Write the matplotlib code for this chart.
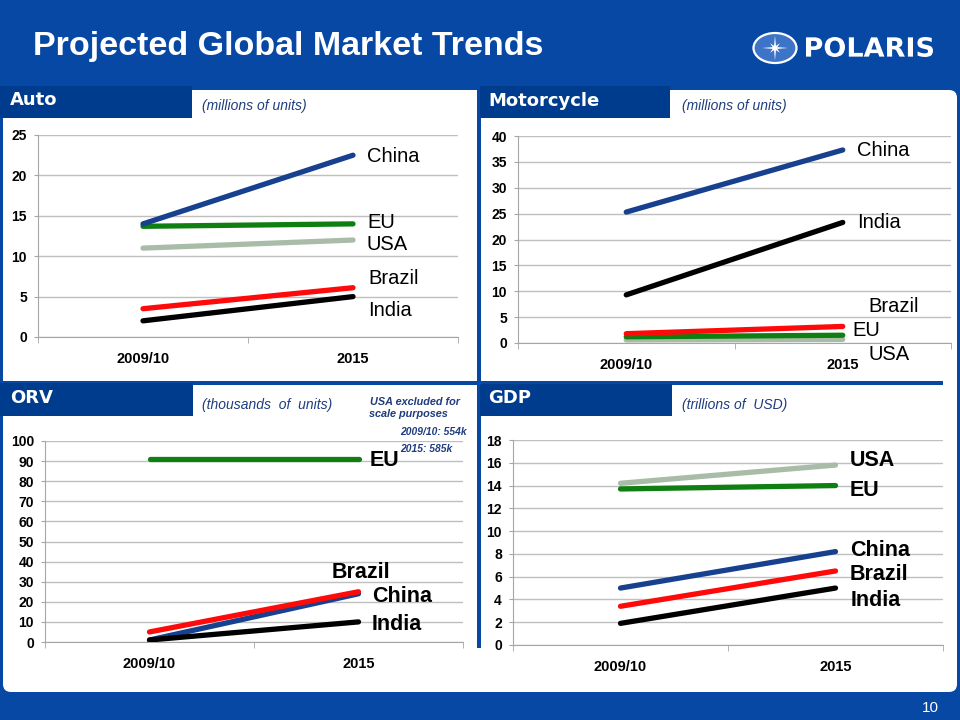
import matplotlib
matplotlib.use("Agg")
import matplotlib.pyplot as plt
from matplotlib.patches import Rectangle, FancyBboxPatch, Ellipse, Polygon, PathPatch
from matplotlib.textpath import TextPath
from matplotlib.font_manager import FontProperties
from matplotlib.transforms import Affine2D
import numpy as np

plt.rcParams['font.family'] = ['Liberation Sans', 'DejaVu Sans']

W, H = 960, 720

years = ["2009/10", "2015"]

# Auto (millions of units)
auto_china = [14.0, 22.5]
auto_eu = [13.7, 14.0]
auto_usa = [11.0, 12.0]
auto_brazil = [3.5, 6.1]
auto_india = [2.0, 5.0]

# Motorcycle (millions of units)
moto_china = [25.3, 37.3]
moto_india = [9.3, 23.3]
moto_brazil = [1.8, 3.2]
moto_eu = [1.2, 1.5]
moto_usa = [0.6, 0.7]

# ORV (thousands of units), USA left out
orv_eu = [91.0, 91.0]
orv_brazil = [5.0, 25.0]
orv_china = [1.0, 24.0]
orv_india = [1.0, 10.0]

# GDP (trillions of USD)
gdp_usa = [14.2, 15.8]
gdp_eu = [13.7, 14.0]
gdp_china = [5.0, 8.2]
gdp_brazil = [3.4, 6.5]
gdp_india = [1.9, 5.0]

BG = '#0748A5'
TAB = '#003C8D'
SUB = '#1F3C7E'
NAVY = '#17408F'
GREEN = '#0F7F12'
GRAY = '#A8BCA8'
RED = '#FF0A0A'
BLACK = '#000000'
SPINE = '#A6A6A6'


def rect(x0, y0, x1, y1):
    # pixel box (top-left origin) -> figure fraction
    return [x0 / W, 1 - y1 / H, (x1 - x0) / W, (y1 - y0) / H]


def ftext(x, y, s, **kw):
    kw.setdefault('va', 'center')
    fig.text(x / W, 1 - y / H, s, **kw)


fig = plt.figure(figsize=(9.6, 7.2), dpi=100)
fig.set_facecolor(BG)

bg = fig.add_axes([0, 0, 1, 1], zorder=-1)
bg.set_xlim(0, W)
bg.set_ylim(H, 0)
bg.set_axis_off()
bg.patch.set_alpha(0)

bg.add_patch(FancyBboxPatch((3, 90), 954, 602, boxstyle="round,pad=0,rounding_size=8",
                            fc='white', ec='none'))
# dividers between the four panels
bg.add_patch(Rectangle((477, 86), 4, 562, fc=BG, ec='none'))
bg.add_patch(Rectangle((0, 381), 943, 4, fc=BG, ec='none'))
# tabs
for tx, ty, tw, th in [(0, 86, 192, 32), (480, 86, 190, 32), (0, 383, 193, 33), (480, 384, 192, 32)]:
    bg.add_patch(Rectangle((tx, ty), tw, th, fc=TAB, ec='none'))

# logo
bg.add_patch(Ellipse((775, 48), 43, 30, fc='#3D74C8', ec='white', lw=1.6))
ang = np.deg2rad(np.arange(16) * 22.5)
rad = np.array([13, 2.5, 7, 2.5] * 4)
star = np.column_stack([775 + rad * np.sin(ang), 48 - rad * np.cos(ang) * 0.95])
bg.add_patch(Polygon(star, closed=True, fc='white', ec='none'))
fp = FontProperties(family='DejaVu Sans', weight='bold')
tp = TextPath((0, 0), "POLARIS", size=20, prop=fp)
bb = tp.get_extents()
tr = Affine2D().translate(-bb.x0, -bb.y0).scale(127 / bb.width, -20 / bb.height).translate(806, 57)
bg.add_patch(PathPatch(tr.transform_path(tp), fc='white', ec='none'))

ftext(33, 46, "Projected Global Market Trends", color='white', fontsize=24.5, fontweight='bold')
ftext(930, 708, "10", color='white', fontsize=11, ha='center')

tab_font = dict(color='white', fontsize=13, fontweight='bold', family='DejaVu Sans')
ftext(10, 100, "Auto", **tab_font)
ftext(488, 101, "Motorcycle", **tab_font)
ftext(10, 398, "ORV", **tab_font)
ftext(488, 398, "GDP", **tab_font)

sub_font = dict(color=SUB, fontsize=10, style='italic')
ftext(202, 106, "(millions of units)", **sub_font)
ftext(682, 106, "(millions of units)", **sub_font)
ftext(202, 405, "(thousands  of  units)", **sub_font)
ftext(682, 405, "(trillions of  USD)", **sub_font)

note_font = dict(color=SUB, fontsize=7.8, style='italic', fontweight='bold')
ftext(370, 402, "USA excluded for", **note_font)
ftext(369, 414, "scale purposes", **note_font)
ftext(400, 432, "2009/10: 554k", fontsize=7.4, color=SUB, style='italic', fontweight='bold')
ftext(400, 449, "2015: 585k", fontsize=7.4, color=SUB, style='italic', fontweight='bold')


def chart(box, series, ymax, ystep):
    ax = fig.add_axes(rect(*box))
    ax.set_facecolor('none')
    x = np.arange(len(years))
    for vals, col in series:
        ax.plot(x, vals, color=col, lw=3.8, solid_capstyle='round', zorder=3)
    ax.set_xlim(-0.5, 1.5)
    ax.set_ylim(0, ymax)
    ax.set_yticks(np.arange(0, ymax + ystep / 2, ystep))
    ax.set_xticks(x)
    ax.set_xticklabels(years)
    ax.set_xticks([-0.5, 0.5, 1.5], minor=True)
    ax.tick_params(axis='y', length=3, color=SPINE, pad=5, labelsize=10)
    ax.tick_params(axis='x', which='major', length=0, pad=11, labelsize=10.5)
    ax.tick_params(axis='x', which='minor', length=4, color=SPINE)
    for lbl in ax.get_xticklabels() + ax.get_yticklabels():
        lbl.set_fontweight('bold')
    ax.yaxis.grid(True, color='#BFBFBF', lw=1)
    ax.set_axisbelow(True)
    for s in ['top', 'right']:
        ax.spines[s].set_visible(False)
    for s in ['left', 'bottom']:
        ax.spines[s].set_color(SPINE)
    return ax


chart((38, 135, 458, 337),
      [(auto_usa, GRAY), (auto_eu, GREEN), (auto_china, NAVY), (auto_brazil, RED), (auto_india, BLACK)],
      25, 5)
chart((518, 136, 951, 343),
      [(moto_usa, GRAY), (moto_eu, GREEN), (moto_brazil, RED), (moto_china, NAVY), (moto_india, BLACK)],
      40, 5)
chart((45, 441, 463, 642),
      [(orv_eu, GREEN), (orv_china, NAVY), (orv_brazil, RED), (orv_india, BLACK)],
      100, 10)
chart((513, 440, 943, 645),
      [(gdp_eu, GREEN), (gdp_usa, GRAY), (gdp_china, NAVY), (gdp_brazil, RED), (gdp_india, BLACK)],
      18, 2)

# series names next to the 2015 ends
plain = dict(fontsize=14.5, color='black')
for s, x, y in [("China", 367, 157), ("EU", 367, 222), ("USA", 367, 245), ("Brazil", 368, 278), ("India", 368, 311),
                ("China", 857, 151), ("India", 857, 223), ("Brazil", 868, 307), ("EU", 852, 331), ("USA", 868, 355)]:
    ftext(x, y, s, **plain)
heavy = dict(fontsize=15.5, color='black', fontweight='bold')
for s, x, y in [("EU", 370, 461), ("Brazil", 332, 572), ("China", 372, 596), ("India", 372, 624),
                ("USA", 850, 461), ("EU", 850, 491), ("China", 850, 550), ("Brazil", 850, 574), ("India", 851, 600)]:
    ftext(x, y, s, **heavy)

plt.savefig('out.png', dpi=100, facecolor=BG)
